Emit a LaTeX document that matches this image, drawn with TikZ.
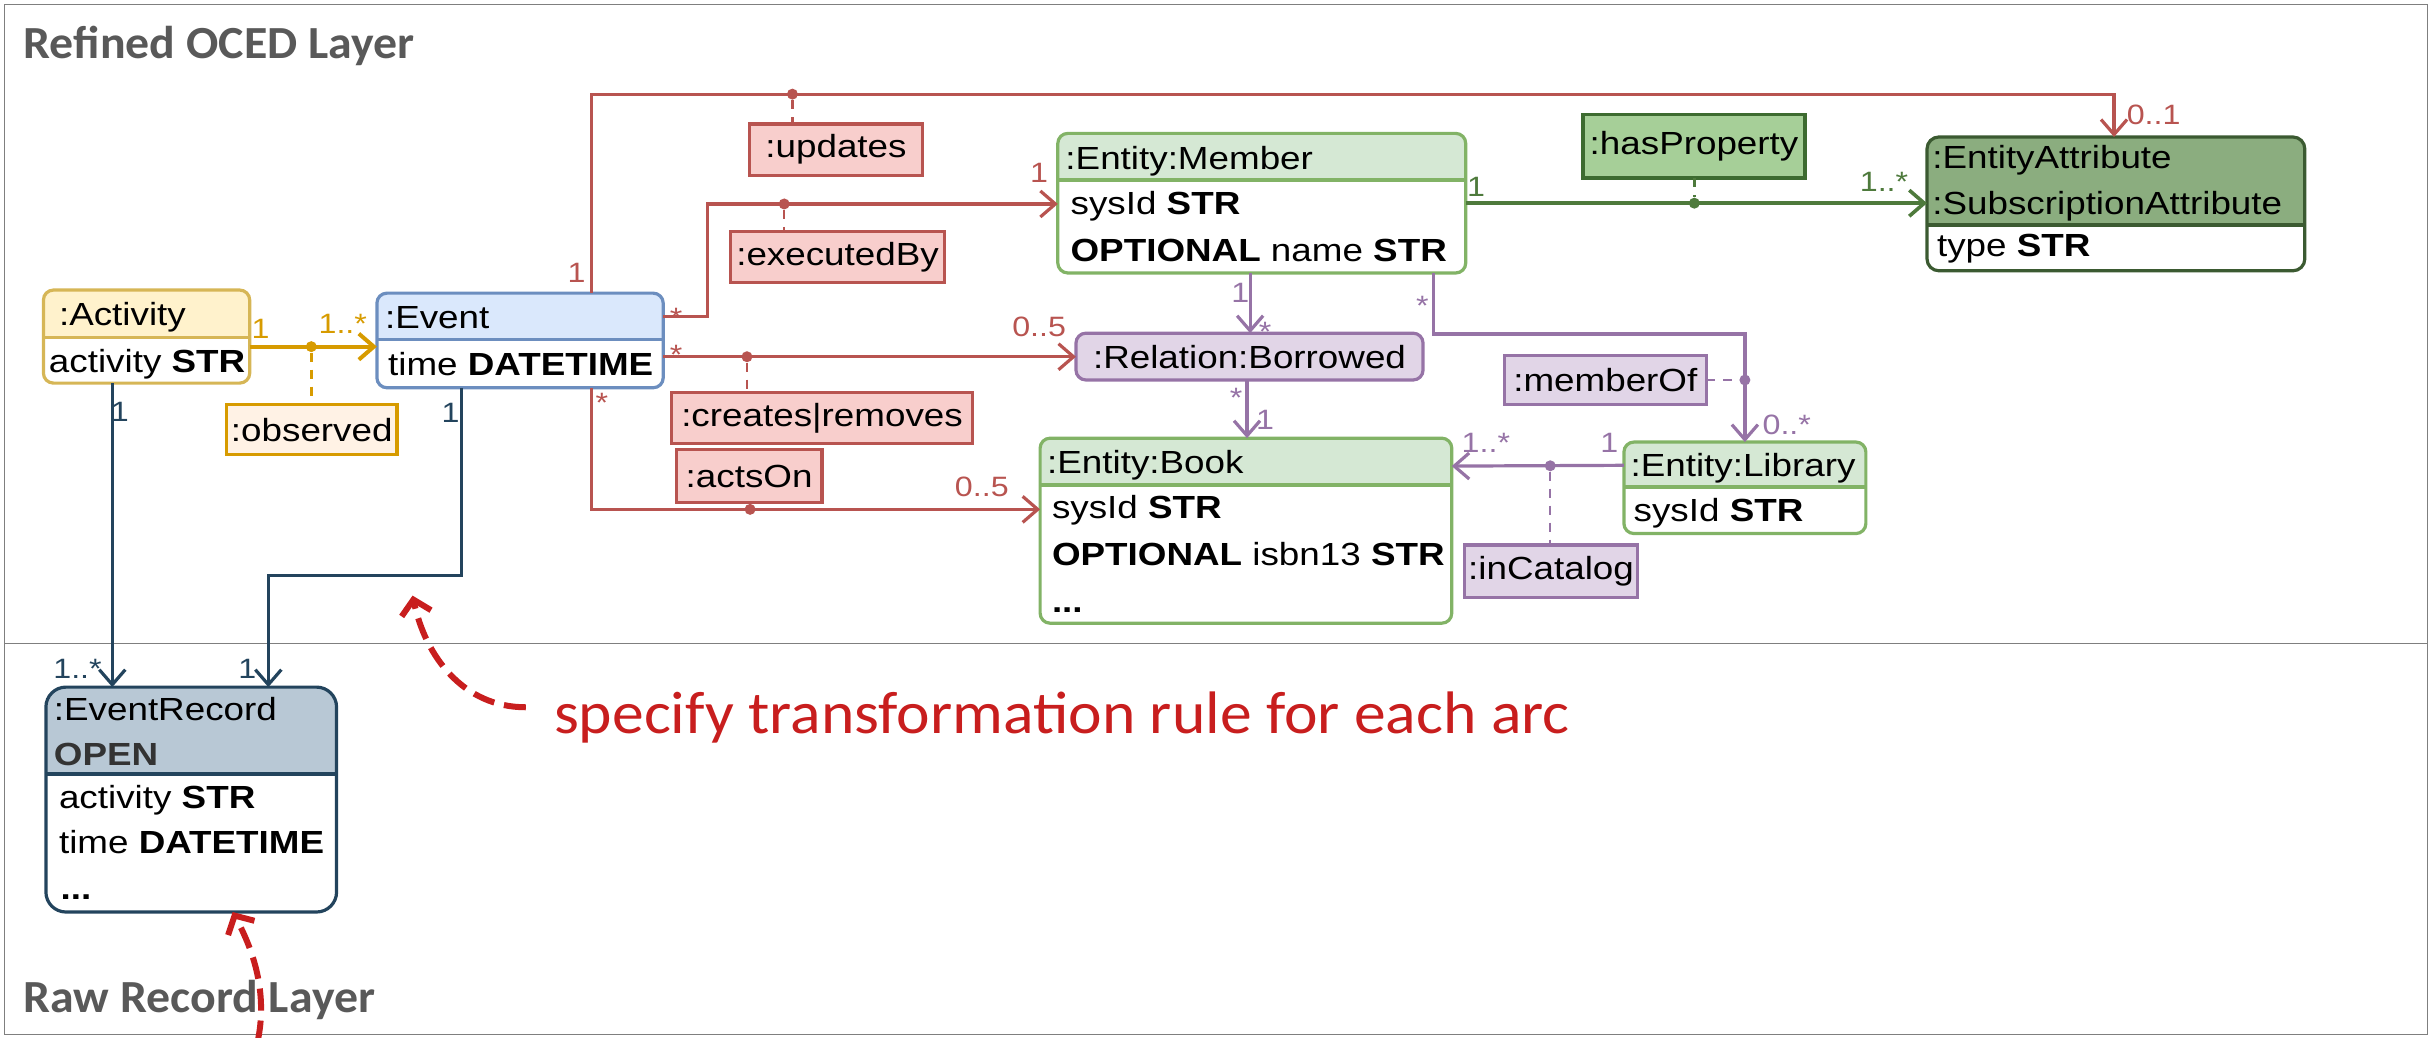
\documentclass[tikz,border=0pt]{standalone}
\usepackage{fontspec}
\setmainfont{Liberation Sans}[FakeStretch=1.15]
\newfontfamily\calibfont{Carlito}[FakeStretch=1.04]
\newfontfamily\notefont{Carlito}[FakeStretch=1.06]
\usetikzlibrary{arrows.meta,fit}

\definecolor{redln}{HTML}{B85450}
\definecolor{redfill}{HTML}{F8CECC}
\definecolor{orangeln}{HTML}{D79B00}
\definecolor{orangefill}{HTML}{FFF2E5}
\definecolor{actfill}{HTML}{FFF2CC}
\definecolor{actln}{HTML}{D6B656}
\definecolor{evfill}{HTML}{DAE8FC}
\definecolor{evln}{HTML}{6C8EBF}
\definecolor{entfill}{HTML}{D5E8D4}
\definecolor{entln}{HTML}{82B366}
\definecolor{relfill}{HTML}{E1D5E7}
\definecolor{relln}{HTML}{9673A6}
\definecolor{attrfill}{HTML}{8BAD7F}
\definecolor{attrln}{HTML}{3B5A31}
\definecolor{propfill}{HTML}{A6CF98}
\definecolor{propln}{HTML}{3D6B30}
\definecolor{greenln}{HTML}{4E7A3C}
\definecolor{recfill}{HTML}{B8C8D5}
\definecolor{recln}{HTML}{23445D}
\definecolor{opengray}{HTML}{333333}
\definecolor{titlegray}{HTML}{595959}
\definecolor{notered}{HTML}{C81E1E}
\definecolor{framegray}{HTML}{7F7F7F}

\newcommand\nodefont{\fontsize{16pt}{19pt}\selectfont}
\newcommand\multfont{\fontsize{14pt}{16pt}\selectfont}

% class box: name, x1, y1, x2, y of header rule, y2, header fill, stroke, corner radius
\newcommand\umlclass[9]{%
  \node[fill=white, rounded corners=#9, inner sep=0pt, outer sep=0pt,
        fit={(#2,#3) (#4,#6)}] (#1) {};
  \begin{scope}
    \clip (#2,#3) rectangle (#4,#5);
    \fill[#7, rounded corners=#9] (#2,#3) rectangle (#4,#6);
  \end{scope}
  \draw[#8, line width=1.6pt] (#2,#5) -- (#4,#5);
  \draw[#8, line width=1.6pt, rounded corners=#9] (#2,#3) rectangle (#4,#6);
}

\tikzset{
  body/.style={anchor=base west, inner sep=0pt, font=\nodefont},
  lbltxt/.style={inner sep=0pt, font=\nodefont},
  mult/.style={inner sep=0pt, font=\multfont},
  lbl/.style={line width=1.6pt, inner sep=0pt, outer sep=0pt},
  title/.style={anchor=base west, inner sep=0pt, text=titlegray,
    font=\calibfont\fontsize{23pt}{26pt}\selectfont\bfseries},
  conn/.style={line width=1.6pt, -{Straight Barb[length=7.5pt,width=13pt]}},
  link/.style={line width=1.2pt, dash pattern=on 4.5pt off 4pt},
  bigred/.style={notered, line width=3pt, dash pattern=on 11pt off 5pt,
    -{Straight Barb[length=7pt,width=15pt]}},
  dot/.style={fill, inner sep=0pt, minimum size=5.5pt, circle}
}

\begin{document}
\begin{tikzpicture}[x=0.7755pt, y=-0.7755pt]
\useasboundingbox (0,0) rectangle (1568,669);

% layer frames and titles
\draw[framegray, line width=0.8pt] (3,3) rectangle (1565,415);
\draw[framegray, line width=0.8pt] (3,415) rectangle (1565,667);
\node[title] (refined) at (15,38) {Refined OCED Layer};
\node[title] (raw) at (15,653) {Raw Record Layer};

% classes
\umlclass{activity}{28}{187}{161}{217.5}{247}{actfill}{actln}{5pt}
\umlclass{event}{243}{189}{427.6}{219}{250}{evfill}{evln}{5pt}
\umlclass{erec}{29.6}{443}{217}{499}{588}{recfill}{recln}{10pt}
\umlclass{member}{682}{86}{945}{116}{176}{entfill}{entln}{5pt}
\umlclass{book}{670.6}{282.5}{936}{312.7}{401.8}{entfill}{entln}{5pt}
\umlclass{library}{1047}{285}{1203}{314}{344}{entfill}{entln}{5pt}
\umlclass{eattr}{1242.4}{88.3}{1486}{145}{174.6}{attrfill}{attrln}{6pt}
\node[fill=relfill, draw=relln, line width=1.6pt, rounded corners=5pt, inner sep=0pt,
      outer sep=0pt, fit={(693.7,214.8) (917.5,245)}] (borrowed) {};
\node[lbltxt] (borrowed-t) at (borrowed.center) {:Relation:Borrowed};

% class attributes
\node[body] (act-h) at (37.8,210) {:Activity};
\node[body] (act-a) at (31.3,240) {activity \textbf{STR}};
\node[body] (ev-h) at (248,211.8) {:Event};
\node[body] (ev-a) at (250,241.8) {time \textbf{DATETIME}};
\node[body] (rec-h) at (34.5,464.5) {:EventRecord};
\node[body, text=opengray] (rec-o) at (34.5,493.5) {\textbf{OPEN}};
\node[body] (rec-a) at (37.8,521) {activity \textbf{STR}};
\node[body] (rec-t) at (37.8,550) {time \textbf{DATETIME}};
\node[body] (rec-d) at (38.8,580) {\textbf{...}};
\node[body] (mem-h) at (686.7,109.2) {:Entity:Member};
\node[body] (mem-a) at (690,138.6) {sysId \textbf{STR}};
\node[body] (mem-b) at (690,168.7) {\textbf{OPTIONAL} name \textbf{STR}};
\node[body] (book-h) at (674.9,305.2) {:Entity:Book};
\node[body] (book-a) at (678,334.2) {sysId \textbf{STR}};
\node[body] (book-b) at (678,364.3) {\textbf{OPTIONAL} isbn13 \textbf{STR}};
\node[body] (book-d) at (678,395) {\textbf{...}};
\node[body] (lib-h) at (1051,307.3) {:Entity:Library};
\node[body] (lib-a) at (1053,336.4) {sysId \textbf{STR}};
\node[body] (ea-h1) at (1245.6,108.5) {:EntityAttribute};
\node[body] (ea-h2) at (1245.6,138) {:SubscriptionAttribute};
\node[body] (ea-a) at (1248.6,165.5) {type \textbf{STR}};

% association label boxes
\node[lbl, draw=orangeln, fill=orangefill, fit={(146,261) (256,293)}] (observed) {};
\node[lbltxt] (observed-t) at (observed.center) {:observed};
\node[lbl, draw=redln, fill=redfill, fit={(483,80) (595,113)}] (updates) {};
\node[lbltxt] (updates-t) at (updates.center) {:updates};
\node[lbl, draw=redln, fill=redfill, fit={(471,149.5) (609,182)}] (execby) {};
\node[lbltxt] (execby-t) at (execby.center) {:executedBy};
\node[lbl, draw=redln, fill=redfill, fit={(433,253) (627,286)}] (creates) {};
\node[lbltxt] (creates-t) at (creates.center) {:creates|removes};
\node[lbl, draw=redln, fill=redfill, fit={(436,290) (530,324)}] (actson) {};
\node[lbltxt] (actson-t) at (actson.center) {:actsOn};
\node[lbl, draw=propln, fill=propfill, fit={(1020.6,74) (1163.8,114.7)}] (hasprop) {};
\node[lbltxt] (hasprop-t) at (hasprop.center) {:hasProperty};
\node[lbl, draw=relln, fill=relfill, fit={(970,229) (1100,261)}] (memberof) {};
\node[lbltxt] (memberof-t) at (memberof.center) {:memberOf};
\node[lbl, draw=relln, fill=relfill, fit={(944,351.4) (1056,385)}] (incat) {};
\node[lbltxt] (incat-t) at (incat.center) {:inCatalog};

% observed
\draw[conn, orangeln, line width=2pt] (activity.east |- 0,223.5) -- (event.west |- 0,223.5);
\node[dot, orangeln] (obsdot) at (200.7,223.5) {};
\draw[link, orangeln, line width=1.4pt] (obsdot) -- (obsdot |- observed.north);
\node[mult, text=orangeln] (m1) at (168,211.8) {1};
\node[mult, text=orangeln] (m2) at (221,208.5) {1..*};

% links to the raw record layer
\draw[conn, recln] (activity.south -| 72.4,0) -- (erec.north -| 72.4,0);
\draw[conn, recln] (event.south -| 297.7,0) -- (297.7,371) -- (173,371) -- (erec.north -| 173,0);
\node[mult, text=recln] (m3) at (77.3,265.5) {1};
\node[mult, text=recln] (m4) at (290.5,266.5) {1};
\node[mult, text=recln] (m5) at (50,431) {1..*};
\node[mult, text=recln] (m6) at (159.5,431) {1};

% updates
\draw[conn, redln] (event.north -| 381.6,0) -- (381.6,60.7) -- (1363,60.7) -- (eattr.north -| 1363,0);
\node[dot, redln] (upddot) at (510.9,60.7) {};
\draw[link, redln] (upddot) -- (upddot |- updates.north);
% executedBy
\draw[conn, redln] (event.east |- 0,204) -- (456,204) -- (456,131.5) -- (member.west |- 0,131.5);
\node[dot, redln] (exdot) at (505.6,131.5) {};
\draw[link, redln] (exdot) -- (exdot |- execby.north);
% creates|removes
\draw[conn, redln] (event.east |- 0,230) -- (borrowed.west |- 0,230);
\node[dot, redln] (crdot) at (481.6,230) {};
\draw[link, redln] (crdot) -- (crdot |- creates.north);
% actsOn
\draw[conn, redln] (event.south -| 381.6,0) -- (381.6,328.4) -- (book.west |- 0,328.4);
\node[dot, redln] (acdot) at (483.6,328.4) {};
\draw[link, redln] (acdot) -- (acdot |- actson.south);
\node[mult, text=redln] (m7) at (371.7,176) {1};
\node[mult, text=redln] (m8) at (436,205) {*};
\node[mult, text=redln] (m9) at (436,228.6) {*};
\node[mult, text=redln] (m10) at (388,260) {*};
\node[mult, text=redln] (m11) at (670,111.7) {1};
\node[mult, text=redln] (m12) at (670,211) {0..5};
\node[mult, text=redln] (m13) at (633,314) {0..5};
\node[mult, text=redln] (m14) at (1388.5,74) {0..1};

% relation and entity associations
\draw[conn, relln] (member.south -| 806,0) -- (borrowed.north -| 806,0);
\draw[conn, relln] (borrowed.south -| 804,0) -- (book.north -| 804,0);
\draw[conn, relln] (member.south -| 924,0) -- (924,215.4) -- (1125,215.4) -- (library.north -| 1125,0);
\node[dot, relln] (modot) at (1125,245) {};
\draw[link, relln] (memberof.east) -- (modot);
\draw[conn, relln] (library.west |- 0,300) -- (book.east |- 0,300.5);
\node[dot, relln] (icdot) at (999.5,300.3) {};
\draw[link, relln] (icdot) -- (icdot |- incat.north);
\node[mult, text=relln] (m15) at (799.6,189) {1};
\node[mult, text=relln] (m16) at (815.6,214) {*};
\node[mult, text=relln] (m17) at (797,256.6) {*};
\node[mult, text=relln] (m18) at (815.6,270.8) {1};
\node[mult, text=relln] (m19) at (917,197) {*};
\node[mult, text=relln] (m20) at (1152,274) {0..*};
\node[mult, text=relln] (m21) at (958,285.8) {1..*};
\node[mult, text=relln] (m22) at (1037.6,285.8) {1};

% hasProperty
\draw[conn, greenln, line width=1.8pt] (member.east |- 0,131) -- (eattr.west |- 0,131);
\node[dot, greenln] (hpdot) at (1092.4,131) {};
\draw[link, greenln] (hasprop.south -| hpdot) -- (hpdot);
\node[mult, text=greenln] (m23) at (951.6,120.5) {1};
\node[mult, text=greenln] (m24) at (1214.7,117) {1..*};

% transformation note
\node[anchor=base west, inner sep=0pt, text=notered,
      font=\notefont\fontsize{30pt}{34pt}\selectfont] (note) at (357,473)
      {specify transformation rule for each arc};
\coordinate (noteend) at (339,456);
\coordinate (arctip) at (266,384);
\draw[bigred] (noteend) to[out=180, in=-78] (arctip);
\coordinate (lowstart) at (166,672);
\draw[bigred] (lowstart) .. controls (173,640) and (163,612) .. (erec.south -| 150,0);
\end{tikzpicture}
\end{document}
